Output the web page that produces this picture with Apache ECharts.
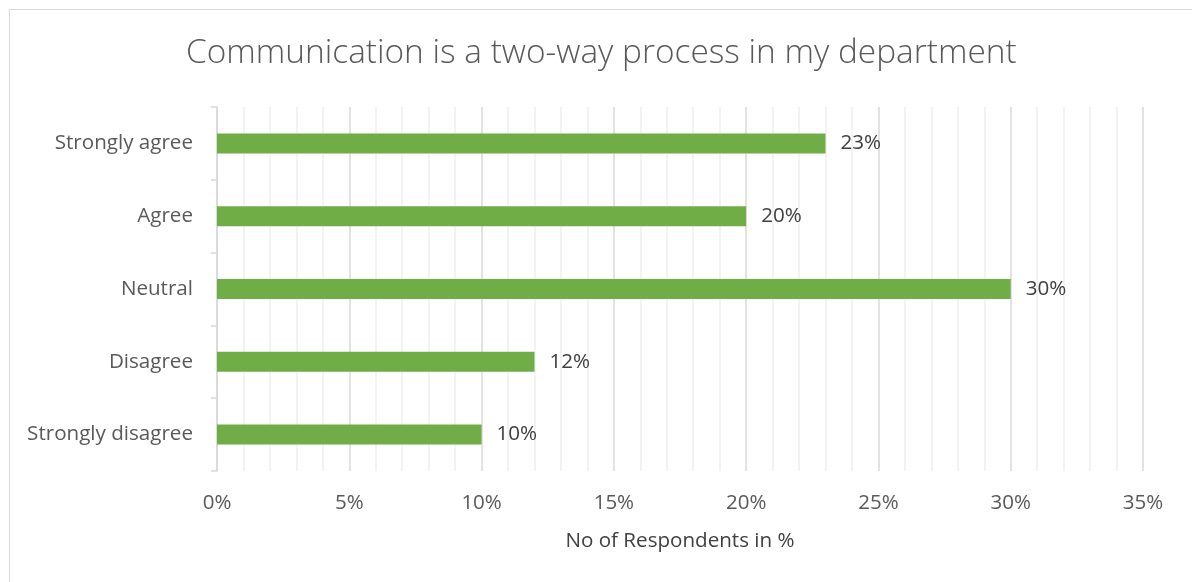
<!DOCTYPE html>
<html>
<head>
<meta charset="utf-8">
<script src="https://cdn.jsdelivr.net/npm/echarts@6/dist/echarts.min.js"></script>
<style>
  html, body { margin: 0; padding: 0; background: #ffffff; }
  #frame { position: absolute; left: 9px; top: 9px; width: 1200px; height: 600px;
           border-top: 1px solid #d9d9d9; border-left: 1px solid #d9d9d9; box-sizing: border-box; }
  #chart { position: absolute; left: 0; top: 0; width: 1192px; height: 582px; }
</style>
</head>
<body>
<div id="frame"></div>
<div id="chart"></div>
<script>
// Survey responses, top to bottom
const categories = ['Strongly agree', 'Agree', 'Neutral', 'Disagree', 'Strongly disagree'];
const respondents = [23, 20, 30, 12, 10];
const titleText = 'Communication is a two-way process in my department';
const axisTitle = 'No of Respondents in %';

const FONT = '"Open Sans", "Liberation Sans", sans-serif';

const chart = echarts.init(document.getElementById('chart'), null, { renderer: 'canvas' });
chart.setOption({
  backgroundColor: 'transparent',
  animation: false,
  title: {
    text: titleText,
    left: 181,
    top: 32,
    textStyle: { fontFamily: FONT, fontSize: 33.4, fontWeight: 300, color: '#595959' }
  },
  grid: { left: 217, right: 49, top: 107, bottom: 111, containLabel: false },
  xAxis: {
    type: 'value',
    min: 0,
    max: 35,
    interval: 5,
    name: axisTitle,
    nameLocation: 'middle',
    nameGap: 60,
    nameTextStyle: { fontFamily: FONT, fontSize: 20.6, color: '#404040' },
    axisLine: { show: false },
    axisTick: { show: false },
    axisLabel: { formatter: '{value}%', margin: 22, fontFamily: FONT, fontSize: 20.5, color: '#595959' },
    splitLine: { show: true, lineStyle: { color: '#d9d9d9', width: 1.5 } },
    minorTick: { show: false, splitNumber: 5 },
    minorSplitLine: { show: true, lineStyle: { color: '#f0f0f0', width: 1.5 } }
  },
  yAxis: {
    type: 'category',
    data: categories,
    inverse: true,
    axisLine: { show: true, lineStyle: { color: '#d9d9d9', width: 1.5 } },
    axisTick: { show: true, inside: false, length: 6, lineStyle: { color: '#d9d9d9', width: 1.5 } },
    axisLabel: { margin: 24, fontFamily: FONT, fontSize: 20.6, color: '#595959' },
    splitLine: { show: false }
  },
  series: [{
    type: 'bar',
    data: respondents,
    barWidth: 20,
    itemStyle: { color: '#70ad47' },
    label: {
      show: true,
      position: 'right',
      distance: 15,
      formatter: '{c}%',
      fontFamily: FONT,
      fontSize: 20.6,
      color: '#404040'
    }
  }]
});
</script>
</body>
</html>
